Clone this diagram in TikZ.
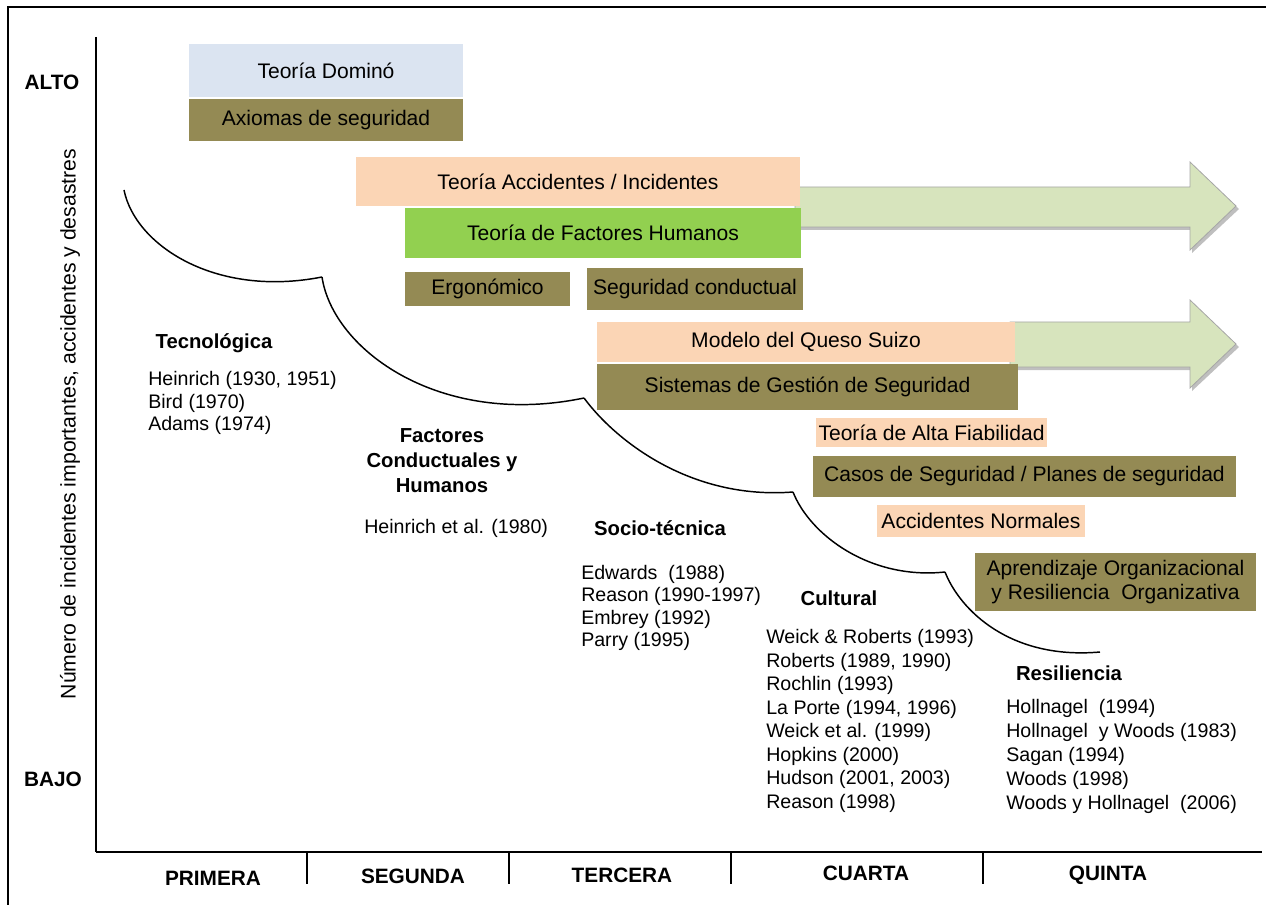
\documentclass[tikz,border=0pt]{standalone}
\usepackage{fontspec}
\setmainfont{Liberation Sans}
\usepackage{tikz}

\definecolor{dominoblue}{RGB}{219,228,241}
\definecolor{olivebox}{RGB}{148,138,84}
\definecolor{peachbox}{RGB}{251,213,181}
\definecolor{hfgreen}{RGB}{146,208,80}
\definecolor{arrowgreen}{RGB}{215,228,189}

\begin{document}
\begin{tikzpicture}[x=0.75pt,y=-0.75pt]
    \tikzstyle{box}=[rectangle,inner sep=0pt,align=center,font=\fontsize{15.8}{18}\selectfont]
    \tikzstyle{blue box}=[box,fill=dominoblue]
    \tikzstyle{olive box}=[box,fill=olivebox]
    \tikzstyle{peach box}=[box,fill=peachbox]
    \tikzstyle{green box}=[box,fill=hfgreen]
    \tikzstyle{era}=[anchor=base,inner sep=0pt,font=\bfseries\fontsize{15.2}{18}\selectfont]
    \tikzstyle{gen}=[anchor=base,inner sep=0pt,font=\bfseries\fontsize{15.6}{18}\selectfont]
    \tikzstyle{cite}=[anchor=base west,inner sep=0pt,font=\fontsize{14.7}{17}\selectfont]
    \tikzstyle{big arrow}=[fill=arrowgreen,draw=black!35,line width=0.6pt]
    \tikzstyle{scallop}=[draw=black,line width=1.1pt]
    \useasboundingbox (0,0) rectangle (1266,905);

    % frame and axes
    \draw[line width=1.2pt] (8,915) -- (8,7) -- (1275,7);
    \draw[line width=1.1pt] (96,37) -- (96,852);
    \draw[line width=1.6pt] (96,852) -- (1262,852);
    \foreach \x in {307,509,731,983}
        \draw[line width=1.1pt] (\x,852) -- (\x,884);

    % axis labels
    \node[gen] (alto) at (52,90) {ALTO};
    \node[gen] (bajo) at (53,786) {BAJO};
    \node[rotate=90,inner sep=0pt,font=\fontsize{15.9}{18}\selectfont] (ylab) at (70,424)
        {Número de incidentes importantes, accidentes y desastres};
    \node[gen] (gen-1) at (213,885) {PRIMERA};
    \node[gen] (gen-2) at (413,883) {SEGUNDA};
    \node[gen] (gen-3) at (622,882) {TERCERA};
    \node[gen] (gen-4) at (866,880) {CUARTA};
    \node[gen] (gen-5) at (1108,880) {QUINTA};

    % the two long arrows (behind the boxes)
    \fill[black!25] (797,190) -- (1192,190) -- (1192,166) -- (1239,209) -- (1192,253) -- (1192,230) -- (797,230) -- cycle;
    \draw[big arrow] (795,187) -- (1190,187) -- (1190,162) -- (1236,206) -- (1190,250) -- (1190,227) -- (795,227) -- cycle;
    \fill[black!25] (1012,325) -- (1192,325) -- (1192,304) -- (1239,347) -- (1192,391) -- (1192,370) -- (1012,370) -- cycle;
    \draw[big arrow] (1010,322) -- (1190,322) -- (1190,300) -- (1236,344) -- (1190,388) -- (1190,367) -- (1010,367) -- cycle;

    % Draw the theory boxes
    \node[blue box,minimum width=205.5pt,minimum height=39.75pt] (domino) at (326,70.5) {Teoría Dominó};
    \node[olive box,minimum width=205.5pt,minimum height=31.5pt] (axiomas) at (326,120) {Axiomas de seguridad};
    \node[peach box,minimum width=333pt,minimum height=36.75pt] (accid) at (578,181.5) {Teoría Accidentes / Incidentes};
    \node[green box,minimum width=297pt,minimum height=37.5pt] (humanos) at (603,233) {Teoría de Factores Humanos};
    \node[olive box,minimum width=123.75pt,minimum height=25.5pt] (ergo) at (487.5,289) {Ergonómico};
    \node[olive box,minimum width=162pt,minimum height=31.5pt] (conduct) at (695,289) {Seguridad conductual};
    \node[peach box,minimum width=313.5pt,minimum height=30pt] (queso) at (806,342) {Modelo del Queso Suizo};
    \node[olive box,minimum width=315.75pt,minimum height=34.5pt] (gestion) at (807.5,387) {Sistemas de Gestión de Seguridad};
    \node[peach box,minimum width=173.25pt,minimum height=21.75pt] (fiab) at (931.5,432.5) {Teoría de Alta Fiabilidad};
    \node[olive box,minimum width=317.25pt,minimum height=30.75pt] (casos) at (1024.5,476.5) {Casos de Seguridad / Planes de seguridad};
    \node[peach box,minimum width=156pt,minimum height=24pt] (normales) at (981,521) {Accidentes Normales};
    \node[olive box,minimum width=210.75pt,minimum height=43.5pt] (aprend) at (1115.5,582) {Aprendizaje Organizacional\\y Resiliencia\ \ Organizativa};

    % the scalloped curve
    \coordinate (c0) at (124,190);
    \coordinate (c1) at (322,277);
    \coordinate (c2) at (584,398);
    \coordinate (c3) at (793,492);
    \coordinate (c4) at (945,572);
    \coordinate (c5) at (1100,652);
    \draw[scallop] (c0) .. controls (135,245) and (215,298) .. (c1);
    \draw[scallop] (c1) .. controls (333,350) and (440,428) .. (c2);
    \draw[scallop] (c2) .. controls (615,440) and (690,500) .. (c3);
    \draw[scallop] (c3) .. controls (810,535) and (870,580) .. (c4);
    \draw[scallop] (c4) .. controls (960,610) and (1010,660) .. (c5);

    % Annotate the eras
    \node[era] (tec) at (214,349) {Tecnológica};
    \foreach \txt/\yy [count=\i] in {{Heinrich (1930, 1951)}/385,{Bird (1970)}/408,{Adams (1974)}/430}
        \node[cite] (tec-\i) at (148,\yy) {\txt};
    \foreach \txt/\yy [count=\i] in {Factores/442,{Conductuales y}/467,Humanos/492}
        \node[era] (fch-\i) at (442,\yy) {\txt};
    \node[cite] (fch-ref) at (364,533) {Heinrich et al. (1980)};
    \node[era] (soc) at (660,535) {Socio-técnica};
    \foreach \txt/\yy [count=\i] in {{Edwards\ \ (1988)}/579,{Reason (1990-1997)}/601,{Embrey (1992)}/624,{Parry (1995)}/646}
        \node[cite] (soc-\i) at (581,\yy) {\txt};
    \node[era] (cul) at (839,605) {Cultural};
    \foreach \txt/\yy [count=\i] in {{Weick \& Roberts (1993)}/643,{Roberts (1989, 1990)}/667,{Rochlin (1993)}/690,
        {La Porte (1994, 1996)}/714,{Weick et al. (1999)}/737,{Hopkins (2000)}/761,{Hudson (2001, 2003)}/784,{Reason (1998)}/808}
        \node[cite] (cul-\i) at (766,\yy) {\txt};
    \node[era] (res) at (1069,680) {Resiliencia};
    \foreach \txt/\yy [count=\i] in {{Hollnagel\ \ (1994)}/713,{Hollnagel\ \ y Woods (1983)}/737,{Sagan (1994)}/761,
        {Woods (1998)}/785,{Woods y Hollnagel\ \ (2006)}/809}
        \node[cite] (res-\i) at (1006,\yy) {\txt};
\end{tikzpicture}
\end{document}
